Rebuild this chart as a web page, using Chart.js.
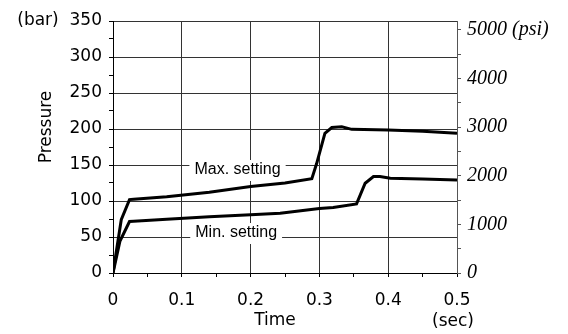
<!DOCTYPE html>
<html>
<head>
<meta charset="utf-8">
<script src="https://cdn.jsdelivr.net/npm/chart.js@4.4.0/dist/chart.umd.min.js"></script>
<style>
html, body { margin:0; padding:0; background:#fff; }
</style>
</head>
<body>
<canvas id="chartPressure" width="568" height="334"></canvas>
<script>
// values (bar vs sec)
var timeMax = [0, 0.012, 0.024, 0.03, 0.078, 0.14, 0.2, 0.25, 0.289, 0.296, 0.308, 0.318, 0.3325, 0.347, 0.4, 0.45, 0.5];
var pressureMax = [0, 74, 102, 102.5, 106, 112, 120, 125, 131, 152, 194, 202, 203, 199.5, 198.5, 197, 194];
var timeMin = [0, 0.01, 0.024, 0.03, 0.078, 0.14, 0.2, 0.243, 0.3, 0.32, 0.354, 0.3665, 0.3786, 0.388, 0.403, 0.45, 0.5];
var pressureMin = [0, 44, 71.5, 72, 74.8, 78, 81, 83, 89.5, 91, 96, 124.7, 134, 134, 131.6, 130.5, 129.3];

var xTickLabels = ['0', '0.1', '0.2', '0.3', '0.4', '0.5'];
var barTickLabels = ['0', '50', '100', '150', '200', '250', '300', '(bar)  350'];
var psiTicks = [0, 500, 1000, 1500, 2000, 2500, 3000, 3500, 4000, 4500, 5000];
var psiTickLabels = ['0', '1000', '2000', '3000', '4000', '5000 (psi)'];
var psiMax = 5185; // psi scale top, matching 350 bar on the left

function toPoints(xs, ys) {
    var pts = [];
    for (var i = 0; i < xs.length; i++) pts.push({x: xs[i], y: ys[i]});
    return pts;
}

var gridColor = function(c) { return c.index % 2 === 0 ? '#333' : 'rgba(0,0,0,0)'; };
var sansFont = {family: 'DejaVu Sans', size: 17};

// axis titles and the two setting labels
var textPlugin = {
    id: 'textPlugin',
    afterDraw: function(chart) {
        var ctx = chart.ctx, xs = chart.scales.x, ys = chart.scales.y;
        ctx.save();
        ctx.fillStyle = '#000';
        ctx.font = '17px "DejaVu Sans"';
        ctx.textAlign = 'center';
        ctx.textBaseline = 'middle';
        ctx.fillText('Time', 275, 321);
        ctx.fillText('(sec)', 453, 322);
        ctx.save();
        ctx.translate(47, 127);
        ctx.rotate(-Math.PI / 2);
        ctx.fillText('Pressure', 0, 0);
        ctx.restore();

        ctx.font = '16px "Liberation Sans"';
        var notes = [['Max. setting', 0.181, 150, 5], ['Min. setting', 0.179, 50, -4]];
        notes.forEach(function(n) {
            var cx = xs.getPixelForValue(n[1]);
            var cy = ys.getPixelForValue(n[2]) + n[3];
            var w = ctx.measureText(n[0]).width + 10;
            ctx.fillStyle = '#fff';
            ctx.fillRect(cx - w / 2, cy - 10, w, 21);
            ctx.fillStyle = '#000';
            ctx.fillText(n[0], cx, cy);
        });
        ctx.restore();
    }
};

var ctx = document.getElementById('chartPressure');
var myPressureChart = new Chart(ctx, {
    type: 'line',
    data: {
        datasets: [{
            label: 'Max. setting',
            data: toPoints(timeMax, pressureMax),
            borderColor: '#000',
            borderWidth: 3,
            pointRadius: 0,
            tension: 0,
            yAxisID: 'y'
        }, {
            label: 'Min. setting',
            data: toPoints(timeMin, pressureMin),
            borderColor: '#000',
            borderWidth: 3,
            pointRadius: 0,
            tension: 0,
            yAxisID: 'y'
        }]
    },
    plugins: [textPlugin],
    options: {
        responsive: false,
        animation: false,
        layout: { padding: { top: 21 } },
        plugins: {
            legend: { display: false },
            tooltip: { enabled: false }
        },
        scales: {
            x: {
                type: 'linear',
                min: 0,
                max: 0.5,
                afterFit: function(s) { s.height = 61; },
                ticks: {
                    stepSize: 0.05,
                    autoSkip: false,
                    maxRotation: 0,
                    color: '#000',
                    font: sansFont,
                    padding: 13,
                    callback: function(v, i) { return i % 2 === 0 ? xTickLabels[i / 2] : ''; }
                },
                grid: { color: gridColor, tickColor: '#000', tickLength: 4 },
                border: { color: '#000' }
            },
            y: {
                type: 'linear',
                position: 'left',
                min: 0,
                max: 350,
                afterFit: function(s) { s.width = 113; },
                ticks: {
                    stepSize: 25,
                    autoSkip: false,
                    color: '#000',
                    font: sansFont,
                    padding: 7,
                    callback: function(v, i) { return i % 2 === 0 ? barTickLabels[i / 2] : ''; }
                },
                grid: { color: gridColor, tickColor: '#000', tickLength: 4 },
                border: { color: '#000' }
            },
            y2: {
                type: 'linear',
                position: 'right',
                bounds: 'data',
                min: 0,
                max: psiMax,
                afterBuildTicks: function(s) {
                    s.min = 0;
                    s.max = psiMax;
                    s.ticks = psiTicks.map(function(v) { return {value: v}; });
                },
                afterFit: function(s) { s.width = 111; },
                ticks: {
                    autoSkip: false,
                    color: '#000',
                    font: {family: 'Liberation Serif', style: 'italic', size: 20},
                    padding: 6,
                    callback: function(v, i) { return i % 2 === 0 ? psiTickLabels[i / 2] : ''; }
                },
                grid: { drawOnChartArea: false, tickColor: '#555', tickLength: 4 },
                border: { color: '#555' }
            }
        }
    }
});
</script>
</body>
</html>
